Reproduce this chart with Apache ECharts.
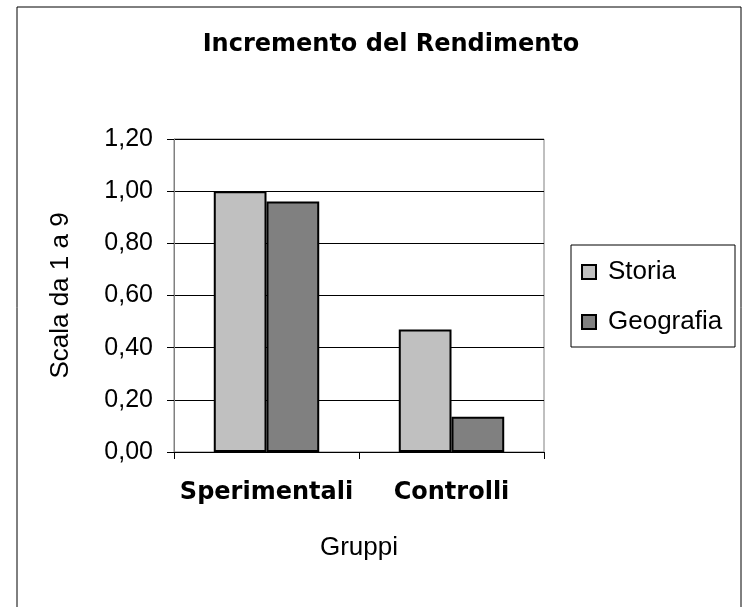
<!DOCTYPE html>
<html>
<head>
<meta charset="utf-8">
<title>Incremento del Rendimento</title>
<script src="https://cdn.jsdelivr.net/npm/echarts@6/dist/echarts.min.js"></script>
<style>
  html, body { margin: 0; padding: 0; background: #fff; }
  #main { width: 744px; height: 607px; }
</style>
</head>
<body>
<div id="main"></div>
<script>
// dati
var gruppi = ["Sperimentali", "Controlli"];
var storia = [1.00, 0.47];
var geografia = [0.96, 0.135];
var yTicks = [0, 0.2, 0.4, 0.6, 0.8, 1.0, 1.2];

var myChart = echarts.init(document.getElementById("main"));
var font = "Liberation Sans, Arial, sans-serif";
var boldFont = "DejaVu Sans, Liberation Sans, sans-serif";

var option = {
  backgroundColor: "#fff",
  animation: false,
  textStyle: { fontFamily: font, color: "#000" },
  title: {
    text: "Incremento del Rendimento",
    left: 386,
    textAlign: "center",
    top: 28,
    textStyle: { fontSize: 24, fontWeight: "bold", color: "#000", fontFamily: boldFont }
  },
  graphic: [
    {
      // cornice esterna
      type: "rect",
      shape: { x: 17, y: 7, width: 724, height: 620 },
      style: { fill: "none", stroke: "#000", lineWidth: 1 },
      silent: true
    },
    {
      // riquadro legenda
      type: "rect",
      shape: { x: 571, y: 245, width: 164, height: 102 },
      style: { fill: "#fff", stroke: "#000", lineWidth: 1 },
      z: -1,
      silent: true
    }
  ],
  legend: {
    orient: "vertical",
    left: 576,
    top: 254,
    itemGap: 24,
    itemWidth: 14,
    itemHeight: 14,
    icon: "rect",
    itemStyle: { borderWidth: 2, borderColor: "#000" },
    textStyle: { fontSize: 26, color: "#000", fontFamily: font, padding: [0, 0, 0, 7] },
    data: ["Storia", "Geografia"]
  },
  grid: {
    left: 174,
    right: 200,
    top: 139,
    bottom: 155,
    show: true,
    borderColor: "#808080",
    borderWidth: 1
  },
  xAxis: {
    type: "category",
    data: gruppi,
    name: "Gruppi",
    nameLocation: "middle",
    nameGap: 83,
    nameTextStyle: { fontSize: 26, color: "#000", fontFamily: font },
    axisLine: { lineStyle: { color: "#000", width: 1 } },
    axisTick: { show: true, length: 7, lineStyle: { color: "#000" } },
    axisLabel: {
      interval: 0,
      hideOverlap: false,
      fontSize: 24,
      fontWeight: "bold",
      color: "#000",
      margin: 29,
      fontFamily: boldFont
    }
  },
  yAxis: {
    type: "value",
    min: 0,
    max: 1.2,
    interval: 0.2,
    name: "Scala da 1 a 9",
    nameLocation: "middle",
    nameGap: 100,
    nameTextStyle: { fontSize: 26, color: "#000", fontFamily: font },
    axisLine: { show: true, lineStyle: { color: "#808080", width: 1 } },
    axisTick: { show: true, length: 7, lineStyle: { color: "#000" } },
    splitLine: { show: true, lineStyle: { color: "#000", width: 1 } },
    axisLabel: {
      fontSize: 25,
      color: "#000",
      margin: 21,
      fontFamily: font,
      formatter: function (v) { return v.toFixed(2).replace(".", ","); }
    }
  },
  series: [
    {
      name: "Storia",
      type: "bar",
      data: storia,
      barGap: "0%",
      barCategoryGap: "43%",
      itemStyle: { color: "#c0c0c0", borderColor: "#000", borderWidth: 2 }
    },
    {
      name: "Geografia",
      type: "bar",
      data: geografia,
      itemStyle: { color: "#808080", borderColor: "#000", borderWidth: 2 }
    }
  ]
};

myChart.setOption(option);
</script>
</body>
</html>
